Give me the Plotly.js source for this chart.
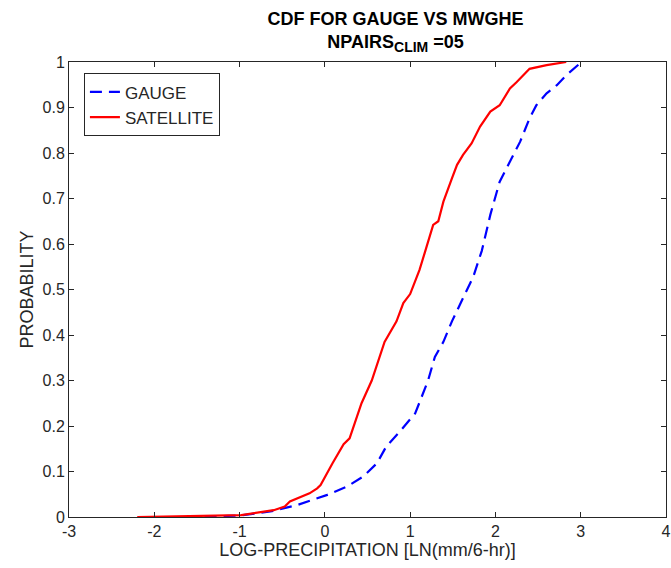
<!DOCTYPE html>
<html>
<head>
<meta charset="utf-8">
<script src="https://cdn.plot.ly/plotly-3.0.1.min.js"></script>
<style>
  html, body { margin: 0; padding: 0; background: #fff; }
  #chart { width: 671px; height: 568px; }
</style>
</head>
<body>
<div id="chart"></div>
<script>
// Empirical CDFs of log-precipitation, gauge vs satellite
const gaugeX = [-1.41, -0.96, -0.64, -0.33, 0.02, 0.26, 0.45, 0.61, 0.72, 0.88, 1.06, 1.13, 1.21, 1.29, 1.39, 1.49, 1.58, 1.66, 1.74, 1.84, 1.94, 2.05, 2.17, 2.29, 2.40, 2.48, 2.60, 2.72, 2.83, 3.01];
const gaugeP = [0.0, 0.004, 0.012, 0.026, 0.048, 0.067, 0.089, 0.118, 0.155, 0.188, 0.228, 0.26, 0.30, 0.352, 0.385, 0.43, 0.466, 0.499, 0.528, 0.585, 0.664, 0.737, 0.78, 0.825, 0.876, 0.905, 0.931, 0.949, 0.971, 1.0];

const satX = [-2.2, -0.98, -0.6, -0.47, -0.41, -0.18, -0.09, -0.05, 0.09, 0.22, 0.29, 0.35, 0.43, 0.55, 0.63, 0.70, 0.84, 0.92, 1.0, 1.06, 1.11, 1.17, 1.27, 1.33, 1.39, 1.49, 1.55, 1.62, 1.72, 1.82, 1.94, 2.05, 2.17, 2.25, 2.33, 2.40, 2.60, 2.83];
const satP = [0.0, 0.004, 0.015, 0.023, 0.034, 0.052, 0.063, 0.07, 0.118, 0.16, 0.173, 0.206, 0.25, 0.30, 0.345, 0.385, 0.43, 0.47, 0.49, 0.517, 0.543, 0.58, 0.642, 0.65, 0.693, 0.744, 0.774, 0.796, 0.821, 0.858, 0.891, 0.905, 0.942, 0.956, 0.971, 0.985, 0.993, 1.0];

const xTicks = [-3, -2, -1, 0, 1, 2, 3, 4];
const yTicks = [0, 0.1, 0.2, 0.3, 0.4, 0.5, 0.6, 0.7, 0.8, 0.9, 1];

const FAMILY = 'Liberation Sans, Arial, sans-serif';
const INK = '#262626';
const tickFont = { family: FAMILY, size: 16, color: INK };
const labelFont = { family: FAMILY, size: 18, color: INK };
const legendFont = { family: FAMILY, size: 17, color: INK };

const traces = [
  {
    x: gaugeX, y: gaugeP, name: 'GAUGE', mode: 'lines',
    line: { color: '#0000ff', width: 2.2, dash: '12px,7px' }
  },
  {
    x: satX, y: satP, name: 'SATELLITE', mode: 'lines',
    line: { color: '#ff0000', width: 2.2 }
  }
];

const axisCommon = {
  showgrid: false, zeroline: false, automargin: false,
  showline: true, linecolor: INK, linewidth: 1, mirror: 'allticks',
  ticks: 'inside', ticklen: 5, tickcolor: INK,
  tickfont: tickFont
};

const layout = {
  width: 671, height: 568,
  margin: { l: 69, r: 5, t: 62, b: 51 },
  paper_bgcolor: '#fff', plot_bgcolor: '#fff',
  font: tickFont,
  title: {
    text: '<b>CDF FOR GAUGE VS MWGHE</b><br><b>NPAIRS<sub><span style="font-size:14px">CLIM</span></sub> =05</b>',
    font: { family: FAMILY, size: 18, color: '#000' },
    x: 0.547, xanchor: 'center',
    xref: 'paper', yref: 'paper', y: 1, yanchor: 'bottom',
    pad: { b: 37 }
  },
  xaxis: Object.assign({}, axisCommon, {
    range: [-3, 4], tickvals: xTicks, ticktext: xTicks.map(String),
    title: { text: 'LOG-PRECIPITATION [LN(mm/6-hr)]', font: labelFont, standoff: 2 }
  }),
  yaxis: Object.assign({}, axisCommon, {
    range: [0, 1], tickvals: yTicks, ticktext: yTicks.map(String),
    title: { text: 'PROBABILITY', font: labelFont, standoff: 4 }
  }),
  showlegend: true,
  legend: {
    x: 0.025, y: 0.975, xanchor: 'left', yanchor: 'top',
    bgcolor: '#fff', bordercolor: INK, borderwidth: 1,
    font: legendFont, tracegroupgap: 0, itemwidth: 30
  }
};

Plotly.newPlot('chart', traces, layout, { staticPlot: true, displayModeBar: false });
</script>
</body>
</html>
